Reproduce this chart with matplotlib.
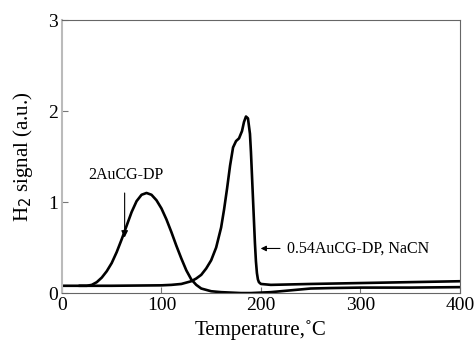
import matplotlib
matplotlib.use("Agg")
import matplotlib.pyplot as plt

# 2AuCG-DP
t1 = [18, 25, 30, 35, 40, 45, 50, 55, 60, 65, 70, 75, 80, 85, 90, 95, 100, 105, 110, 115, 120,
      125, 130, 135, 140, 150, 160, 170, 180, 190, 200, 210, 220, 230, 240, 250, 270, 300, 350, 400]
s1 = [0.08, 0.08, 0.09, 0.12, 0.17, 0.24, 0.33, 0.45, 0.59, 0.74, 0.89, 1.01, 1.08, 1.10, 1.08, 1.02,
      0.93, 0.81, 0.67, 0.52, 0.38, 0.25, 0.15, 0.09, 0.05, 0.02, 0.01, 0.005, 0.0, 0.0, 0.005, 0.01,
      0.02, 0.03, 0.04, 0.05, 0.055, 0.06, 0.06, 0.065]

# 0.54AuCG-DP, NaCN
t2 = [0, 50, 100, 110, 120, 130, 135, 140, 145, 150, 155, 160, 163, 166, 169, 172, 175, 178, 181, 183,
      185, 187, 189, 190, 191, 192, 193, 194, 195, 196, 197, 198, 200, 205, 210, 230, 250, 300, 350, 400]
s2 = [0.08, 0.08, 0.085, 0.09, 0.1, 0.13, 0.16, 0.2, 0.27, 0.36, 0.5, 0.72, 0.92, 1.15, 1.4, 1.6, 1.67,
      1.7, 1.78, 1.88, 1.94, 1.92, 1.75, 1.55, 1.3, 1.05, 0.8, 0.55, 0.35, 0.22, 0.15, 0.12, 0.1, 0.095,
      0.09, 0.095, 0.1, 0.11, 0.12, 0.13]

plt.rcParams['font.family'] = ['Liberation Serif', 'DejaVu Serif']

fig = plt.figure(figsize=(4.75, 3.46), dpi=100)
ax = fig.add_axes([0.1305, 0.153, 0.8375, 0.789])
ax.plot(t1, s1, color="black", lw=1.9)
ax.plot(t2, s2, color="black", lw=1.9)

ax.set_xlim(0, 400)
ax.set_ylim(0, 3)
ax.set_xticks([0, 100, 200, 300, 400])
ax.set_yticks([0, 1, 2, 3])
ax.tick_params(direction="in", labelsize=14, length=4, color="#777777", pad=3)
for sp in ax.spines.values():
    sp.set_color("#666666")
    sp.set_linewidth(0.8)
ax.spines["left"].set_color("#bbbbbb")
ax.spines["left"].set_linewidth(1.5)

ax.set_xlabel("Temperature,˚C", fontsize=15, labelpad=4)
ax.set_ylabel("H$_2$ signal (a.u.)", fontsize=15, labelpad=9)

ax.annotate("", xy=(63, 0.58), xytext=(63, 1.13),
            arrowprops=dict(arrowstyle="-|>", color="black", lw=0.8, mutation_scale=10))
ax.text(64, 1.3, "2AuCG-DP", fontsize=11.5, ha="center", va="center")
ax.annotate("", xy=(197, 0.49), xytext=(222, 0.49),
            arrowprops=dict(arrowstyle="-|>", color="black", lw=0.8, mutation_scale=8))
ax.text(226, 0.49, "0.54AuCG-DP, NaCN", fontsize=11.5, ha="left", va="center")

fig.savefig("out.png", dpi=100)
